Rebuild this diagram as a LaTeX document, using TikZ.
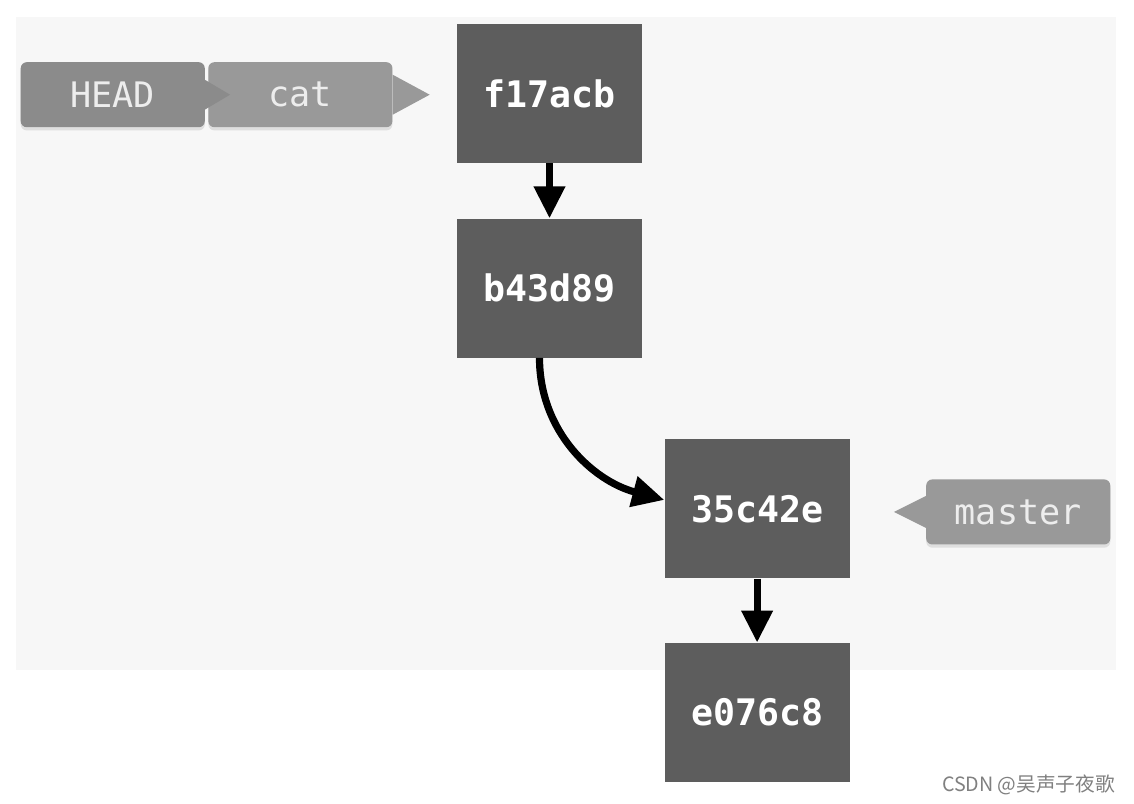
\documentclass[tikz,border=0pt]{standalone}
\usepackage{fontspec}
\usetikzlibrary{arrows.meta,positioning,shadows}
\newfontfamily\hashfont{DejaVu Sans Mono}
\newfontfamily\cjkfont{Noto Sans CJK SC}
\definecolor{commitgray}{HTML}{5D5D5D}
\definecolor{headgray}{HTML}{8B8B8B}
\definecolor{refgray}{HTML}{999999}
\definecolor{panelgray}{HTML}{F7F7F7}

\begin{document}
\begin{tikzpicture}[
  x=0.025cm, y=-0.025cm,
  node distance=1.375cm,
  commit/.style={fill=commitgray, text=white, inner sep=0pt, minimum width=4.625cm, minimum height=3.475cm, font=\hashfont\bfseries\fontsize{26}{30}\selectfont},
  reftag/.style={fill=refgray, rounded corners=0.15cm, text=white!93!black, inner sep=0pt, minimum width=4.6cm, minimum height=1.625cm, font=\hashfont\fontsize{25}{30}\selectfont, drop shadow={opacity=0.2, shadow xshift=0cm, shadow yshift=-0.08cm}},
  arrow/.style={-{Triangle[width=0.75cm, length=0.8cm]}, line width=0.18cm}
]
\useasboundingbox (0,0) rectangle (1134,804);
\fill[white] (0,0) rectangle (1134,804);
\fill[panelgray] (16,17) rectangle (1116,670);

\node[commit] (f17acb) at (549.5,93.5) {f17acb};
\node[commit, below=of f17acb] (b43d89) {b43d89};
\node[commit, below right=2.025cm and 0.55cm of b43d89] (c35c42e) {35c42e};
\node[commit, below=1.6cm of c35c42e] (e076c8) {e076c8};

\node[reftag, left=1.6cm of f17acb, yshift=-0.03cm] (cat) {cat};
\node[reftag, fill=headgray, left=0.075cm of cat] (head) {HEAD};
\node[reftag, right=1.9cm of c35c42e, yshift=-0.08cm] (master) {master};

\fill[refgray] ([yshift=0.5cm]cat.east) -- ([xshift=0.925cm]cat.east) -- ([yshift=-0.5cm]cat.east) -- cycle;
\fill[headgray] ([yshift=0.37cm]head.east) -- ([xshift=0.625cm]head.east) -- ([yshift=-0.37cm]head.east) -- cycle;
\fill[refgray] ([yshift=0.4cm]master.west) -- ([xshift=-0.8cm]master.west) -- ([yshift=-0.4cm]master.west) -- cycle;

\draw[arrow] (f17acb) -- (b43d89);
\draw[arrow] ([xshift=-0.25cm]b43d89.south) to[out=-90, in=165] ([yshift=0.22cm]c35c42e.west);
\draw[arrow] (c35c42e) -- (e076c8);

\node[anchor=east, text=gray, font=\cjkfont\fontsize{14}{16}\selectfont] (mark) at (1120,785) {CSDN @吴声子夜歌};
\end{tikzpicture}
\end{document}
